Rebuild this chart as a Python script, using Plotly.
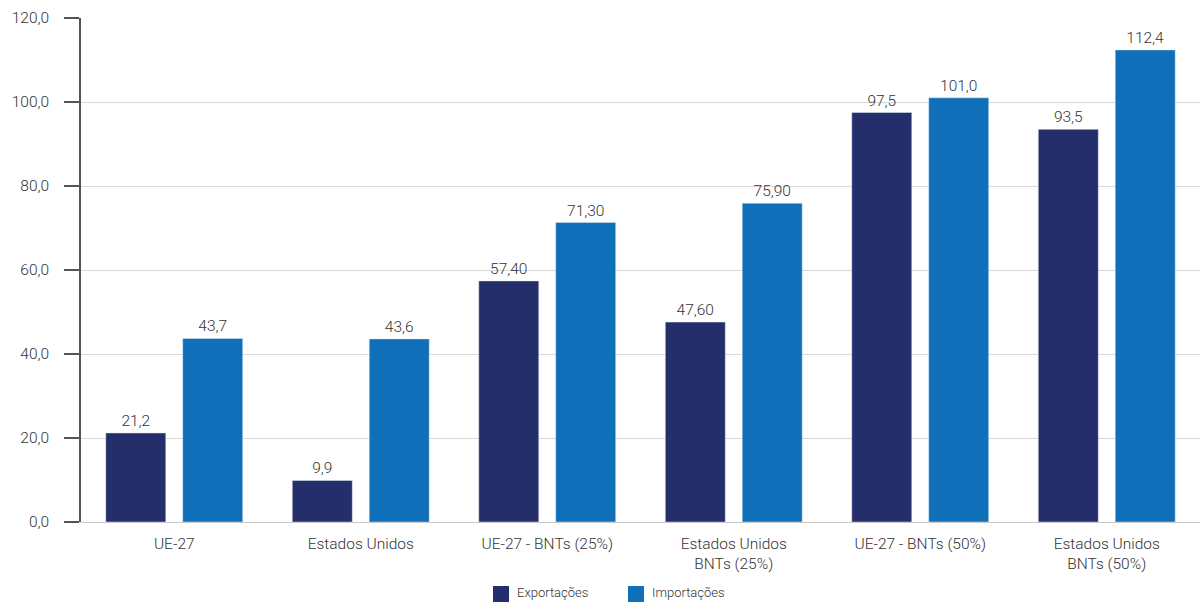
import plotly.graph_objects as go

categories = [
    "UE-27",
    "Estados Unidos",
    "UE-27 - BNTs (25%)",
    "Estados Unidos<br>BNTs (25%)",
    "UE-27 - BNTs (50%)",
    "Estados Unidos<br>BNTs (50%)",
]
exportacoes = [21.2, 9.9, 57.40, 47.60, 97.5, 93.5]
exportacoes_txt = ["21,2", "9,9", "57,40", "47,60", "97,5", "93,5"]
importacoes = [43.7, 43.6, 71.30, 75.90, 101.0, 112.4]
importacoes_txt = ["43,7", "43,6", "71,30", "75,90", "101,0", "112,4"]
series_names = ["Exportações", "Importações"]
series_colors = ["#232e6a", "#0f6fb9"]

FONT = "Roboto, Open Sans, sans-serif"
TXT = "#333333"
LBL = dict(size=15.5, color=TXT, family=FONT, weight=300)

fig = go.Figure()
for name, vals, txt, col in [
    (series_names[0], exportacoes, exportacoes_txt, series_colors[0]),
    (series_names[1], importacoes, importacoes_txt, series_colors[1]),
]:
    fig.add_trace(go.Bar(
        x=categories, y=vals, name=name, marker_color=col,
        text=txt, textposition="outside", textfont=LBL,
        cliponaxis=False, showlegend=False,
    ))

# legend drawn by hand below the plot area (paper coordinates)
legend_x = [0.3682, 0.4888]
for name, col, x0 in zip(series_names, series_colors, legend_x):
    fig.add_shape(type="rect", xref="paper", yref="paper",
                  x0=x0, x1=x0 + 0.0143, y0=-0.127, y1=-0.1587,
                  fillcolor=col, line_width=0)
    fig.add_annotation(xref="paper", yref="paper", x=x0 + 0.0196, y=-0.1395,
                       text=name, showarrow=False, xanchor="left", yanchor="middle",
                       font=dict(size=13, color=TXT, family=FONT, weight=300))

fig.update_layout(
    width=1200, height=602,
    margin=dict(l=81, r=0, t=18, b=80),
    paper_bgcolor="white", plot_bgcolor="white",
    barmode="group", bargap=0.175, bargroupgap=0.22,
    separators=",.",
    font=dict(family=FONT, color=TXT, size=16),
    showlegend=False,
    uniformtext=dict(mode=False),
)
fig.update_xaxes(
    showline=False, showgrid=False, ticks="",
    ticklabelstandoff=10,
    tickfont=LBL,
)
fig.update_yaxes(
    range=[0, 120], dtick=20, tickformat=".1f",
    showgrid=True, gridcolor="#d9d9d9", gridwidth=1,
    zeroline=True, zerolinecolor="#c8c8c8", zerolinewidth=1,
    showline=True, linecolor="#555555", linewidth=1.5,
    ticks="outside", ticklen=15, tickcolor="#555555", tickwidth=1.5,
    ticklabelstandoff=12,
    tickfont=LBL,
)

fig.write_html("out.html")
